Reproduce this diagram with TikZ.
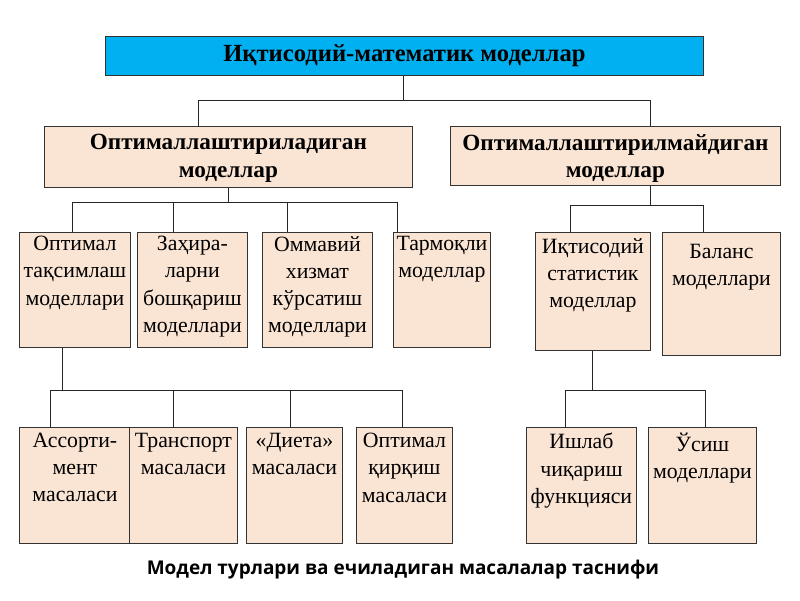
\documentclass[tikz,border=0pt]{standalone}
\usepackage{fontspec}
\setmainfont{Liberation Serif}
\newfontfamily\capfont{Open Sans}
\begin{document}
\begin{tikzpicture}[x=0.025cm,y=-0.025cm,
  box/.style={draw=black!80,fill=boxc,line width=0.6pt,anchor=north west,inner sep=0pt},
  txt/.style={anchor=north,align=center,font=\fontsize{15.5}{19.3}\selectfont,inner sep=0pt},
  ln/.style={draw=black!85,line width=0.6pt}]
\definecolor{boxc}{RGB}{250,228,212}
\definecolor{topc}{RGB}{0,176,240}
\useasboundingbox (0,0) rectangle (800,600);
\newcommand\bx[5]{\node[box,minimum width={(#4-#2)*0.025cm},minimum height={(#5-#3)*0.025cm}] (#1) at (#2,#3) {};}
% top
\node[box,fill=topc,minimum width={598*0.025cm},minimum height={39*0.025cm}] (top) at (105,36) {};
\node[font=\bfseries\fontsize{17.5}{20}\selectfont] at (top.center) {Иқтисодий-математик моделлар};
\bx{opt}{44}{126}{412}{187}
\node[txt,font=\bfseries\fontsize{16.5}{19.5}\selectfont] at ([yshift=-0.2cm]opt.north) {Оптималлаштириладиган\\моделлар};
\bx{non}{450}{126}{780}{185}
\node[txt,font=\bfseries\fontsize{16.5}{19.5}\selectfont] at ([yshift=-0.2cm]non.north) {Оптималлаштирилмайдиган\\моделлар};
% row2
\bx{a1}{19}{232}{130}{347}
\bx{a2}{137}{232}{247}{347}
\bx{a3}{262}{232}{372}{347}
\bx{a4}{393}{232}{490}{347}
\bx{a5}{535}{232}{650}{350}
\bx{a6}{662}{232}{780}{355}
\node[txt] at ([yshift=-0.1cm]a1.north) {Оптимал\\тақсимлаш\\моделлари};
\node[txt] at ([yshift=-0.1cm]a2.north) {Заҳира-\\ларни\\бошқариш\\моделлари};
\node[txt] at ([yshift=-0.1cm]a3.north) {Оммавий\\хизмат\\кўрсатиш\\моделлари};
\node[txt] at ([yshift=-0.1cm]a4.north) {Тармоқли\\моделлар};
\node[txt] at ([yshift=-0.15cm]a5.north) {Иқтисодий\\статистик\\моделлар};
\node[txt] at ([yshift=-0.3cm]a6.north) {Баланс\\моделлари};
% row3
\bx{c1}{19}{427}{130}{543}
\bx{c2}{129}{427}{237}{543}
\bx{c3}{246}{427}{342}{543}
\bx{c4}{356}{427}{452}{543}
\bx{c5}{526}{427}{636}{543}
\bx{c6}{648}{427}{756}{543}
\node[txt] at ([yshift=-0.15cm]c1.north) {Ассорти-\\мент\\масаласи};
\node[txt] at ([yshift=-0.15cm]c2.north) {Транспорт\\масаласи};
\node[txt] at ([yshift=-0.15cm]c3.north) {«Диета»\\масаласи};
\node[txt] at ([yshift=-0.15cm]c4.north) {Оптимал\\қирқиш\\масаласи};
\node[txt] at ([yshift=-0.15cm]c5.north) {Ишлаб\\чиқариш\\функцияси};
\node[txt] at ([yshift=-0.15cm]c6.north) {Ўсиш\\моделлари};
% connectors
\coordinate (t1) at (403,100);
\draw[ln] (top.south -| t1) -- (t1);
\draw[ln] (198,100) -- (650,100);
\draw[ln] (198,100) -- (opt.north -| 198,0);
\draw[ln] (650,100) -- (non.north -| 650,0);
\draw[ln] (opt.south -| 228,0) -- (228,202);
\draw[ln] (72,202) -- (397,202);
\foreach \x/\n in {72/a1,173/a2,287/a3,397/a4} \draw[ln] (\x,202) -- (\n.north -| \x,0);
\draw[ln] (non.south -| 650,0) -- (650,205);
\draw[ln] (570,205) -- (703,205);
\draw[ln] (570,205) -- (a5.north -| 570,0);
\draw[ln] (703,205) -- (a6.north -| 703,0);
\draw[ln] (a1.south -| 62,0) -- (62,390);
\draw[ln] (50,390) -- (402,390);
\foreach \x/\n in {50/c1,173/c2,290/c3,402/c4} \draw[ln] (\x,390) -- (\n.north -| \x,0);
\draw[ln] (a5.south -| 592,0) -- (592,390);
\draw[ln] (565,390) -- (705,390);
\draw[ln] (565,390) -- (c5.north -| 565,0);
\draw[ln] (705,390) -- (c6.north -| 705,0);
\node[font=\capfont\bfseries\fontsize{13.5}{15}\selectfont] (cap) at (403,570) {Модел турлари ва ечиладиган масалалар таснифи};
\end{tikzpicture}
\end{document}
